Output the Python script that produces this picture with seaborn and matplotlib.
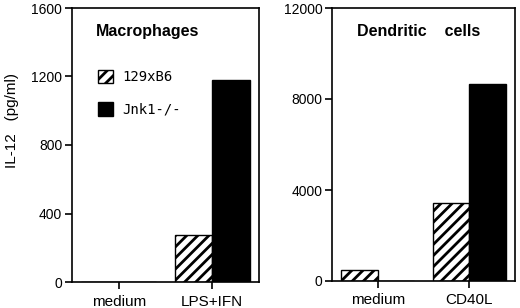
import pandas as pd
import numpy as np
import matplotlib.pyplot as plt
import matplotlib.patches as mpatches
import seaborn as sns

strains = ["129xB6", "Jnk1-/-"]

mac_stim = ["medium", "LPS+IFN"]
mac_129 = [0, 275]
mac_jnk = [0, 1180]

dc_stim = ["medium", "CD40L"]
dc_129 = [480, 3420]
dc_jnk = [0, 8650]

mac_df = pd.DataFrame({
    "stim": mac_stim * 2,
    "il12": mac_129 + mac_jnk,
    "strain": [strains[0]] * 2 + [strains[1]] * 2,
})
dc_df = pd.DataFrame({
    "stim": dc_stim * 2,
    "il12": dc_129 + dc_jnk,
    "strain": [strains[0]] * 2 + [strains[1]] * 2,
})

sns.set_style("ticks", {"axes.edgecolor": "black", "text.color": "black",
                        "xtick.color": "black", "ytick.color": "black",
                        "axes.labelcolor": "black"})
plt.rcParams["font.family"] = ["Liberation Sans", "DejaVu Sans"]
plt.rcParams["hatch.linewidth"] = 2.0

fig = plt.figure(figsize=(5.2, 3.08), dpi=100)
# axes placed in figure pixels (520 x 308)
ax1 = fig.add_axes([72 / 520, 1 - 282 / 308, 187 / 520, 274 / 308])
ax2 = fig.add_axes([332 / 520, 1 - 281 / 308, 183 / 520, 273 / 308])

for ax, df, ymax, ticks in [(ax1, mac_df, 1600, [0, 400, 800, 1200, 1600]),
                            (ax2, dc_df, 12000, [0, 4000, 8000, 12000])]:
    sns.barplot(data=df, x="stim", y="il12", hue="strain", palette=["white", "black"],
                edgecolor="black", linewidth=1.0, width=0.8, ax=ax)
    for bar in ax.containers[0]:
        bar.set_hatch("///")
    ax.get_legend().remove()
    ax.set_xlim(-0.5, 1.5)
    ax.set_ylim(0, ymax)
    ax.set_yticks(ticks)
    ax.set_xlabel("")
    ax.set_ylabel("")
    for s in ax.spines.values():
        s.set_visible(True)
        s.set_linewidth(1.2)
    ax.tick_params(axis="y", length=5, width=1.2, labelsize=10, pad=2)
    ax.tick_params(axis="x", length=5, width=1.2, labelsize=11, pad=4)

fig.text(12 / 520, 1 - 121 / 308, "IL-12   (pg/ml)", rotation=90,
         ha="center", va="center", fontsize=11)

ax1.text(0.13, 0.915, "Macrophages", transform=ax1.transAxes,
         fontsize=11.5, fontweight="bold", va="center")
ax2.text(0.135, 0.915, "Dendritic    cells", transform=ax2.transAxes,
         fontsize=11.5, fontweight="bold", va="center")

handles = [mpatches.Patch(facecolor="white", edgecolor="black", hatch="///", linewidth=1.0),
           mpatches.Patch(facecolor="black", edgecolor="black")]
leg = ax1.legend(handles, strains, loc="upper left", bbox_to_anchor=(0.07, 0.82),
                 frameon=False, handlelength=1.1, handleheight=1.1,
                 handletextpad=0.7, labelspacing=1.3,
                 prop={"family": "DejaVu Sans Mono", "size": 10})

plt.savefig("out.png", dpi=100)
